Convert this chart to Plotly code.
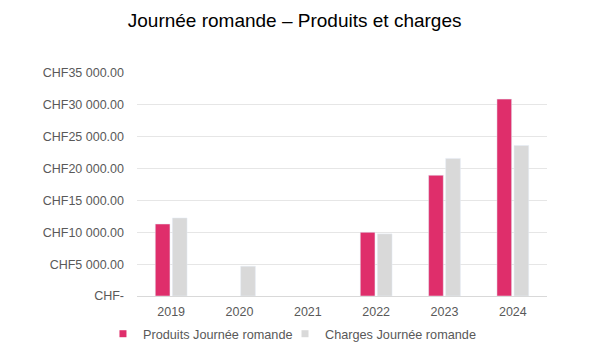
import plotly.graph_objects as go

years = ["2019", "2020", "2021", "2022", "2023", "2024"]
produits = [11300, None, None, 10000, 18950, 30900]
charges = [12250, 4670, None, 9750, 21600, 23620]
tick_vals = [0, 5000, 10000, 15000, 20000, 25000, 30000, 35000]
tick_text = ["CHF-", "CHF5 000.00", "CHF10 000.00", "CHF15 000.00",
             "CHF20 000.00", "CHF25 000.00", "CHF30 000.00", "CHF35 000.00"]
series_names = ["Produits Journée romande", "Charges Journée romande"]
series_colors = ["#DF2E6B", "#D9D9D9"]
legend_ids = ["legend", "legend2"]

fig = go.Figure()
for vals, name, col in zip([produits, charges], series_names, series_colors):
    fig.add_trace(go.Bar(x=years, y=vals, name=name, marker_color=col,
                         showlegend=False))
for name, col, lid in zip(series_names, series_colors, legend_ids):
    fig.add_trace(go.Scatter(x=[None], y=[None], mode="markers", name=name,
                             marker=dict(symbol="square", size=7, color=col),
                             showlegend=True, legend=lid))

leg_common = dict(orientation="h", xanchor="left", yref="container", y=0.109,
                  yanchor="top", font=dict(size=12.7, color="#595959"),
                  itemwidth=30, bgcolor="rgba(0,0,0,0)")

# page body has an 8px margin, so the figure is 591x349 inside a 599x357 window
fig.update_layout(
    width=591, height=349,
    margin=dict(l=129, r=52, t=65, b=61),
    paper_bgcolor="white", plot_bgcolor="white",
    font=dict(family="Liberation Sans, Arial, sans-serif", size=12.5, color="#595959"),
    title=dict(text="Journée romande – Produits et charges",
               font=dict(size=19, color="#000000"),
               x=0.485, xanchor="center", y=0.966, yanchor="middle"),
    barmode="group", bargap=0.5, bargroupgap=0.14,
    showlegend=True,
    legend=dict(x=-0.083, **leg_common),
    legend2=dict(x=0.361, **leg_common),
)
fig.update_yaxes(range=[0, 35000], tickvals=tick_vals, ticktext=tick_text,
                 showgrid=True, gridcolor="#E6E6E6", gridwidth=1,
                 zeroline=True, zerolinecolor="#D9D9D9", zerolinewidth=1,
                 ticks="", ticklabelstandoff=12, automargin=False)
fig.update_xaxes(showgrid=False, showline=False, ticks="", type="category",
                 ticklabelstandoff=6, automargin=False)

fig.write_html("out.html")
